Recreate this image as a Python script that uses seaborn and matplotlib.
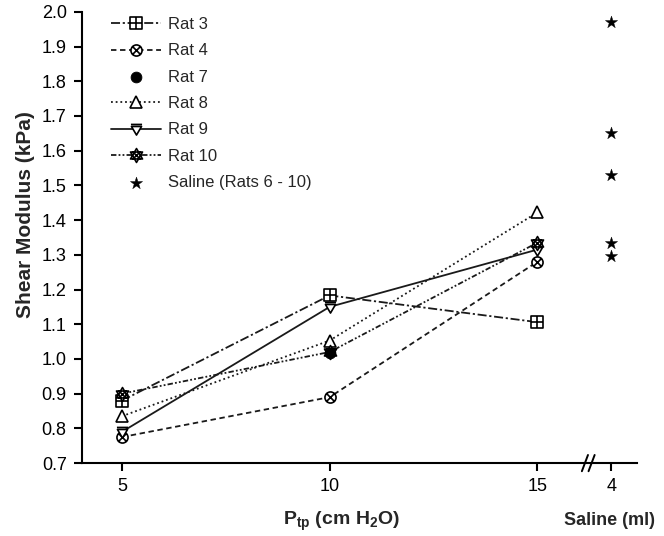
import numpy as np
import pandas as pd
import matplotlib
matplotlib.use("Agg")
import matplotlib.pyplot as plt
from matplotlib.path import Path
import seaborn as sns

# ---------------- data ----------------
pressures = [5, 10, 15]
rat3 = [0.880, 1.183, 1.106]
rat4 = [0.775, 0.890, 1.280]
rat7_p = [10]
rat7 = [1.017]
rat8 = [0.835, 1.053, 1.422]
rat9 = [0.790, 1.150, 1.315]
rat10 = [0.900, 1.020, 1.335]
saline_values = [1.972, 1.651, 1.530, 1.334, 1.297]
saline_pos = 16.78          # x position of the saline column
xtick_labels = ["5", "10", "15", "4"]
yticks = [0.7, 0.8, 0.9, 1.0, 1.1, 1.2, 1.3, 1.4, 1.5, 1.6, 1.7, 1.8, 1.9, 2.0]

# ---------------- style ----------------
sns.set_theme(style="ticks")
plt.rcParams["font.family"] = ["Liberation Sans", "DejaVu Sans"]
plt.rcParams["mathtext.fontset"] = "custom"
plt.rcParams["mathtext.rm"] = "Liberation Sans:bold"
plt.rcParams["mathtext.bf"] = "Liberation Sans:bold"
plt.rcParams["mathtext.it"] = "Liberation Sans:bold"

def compound(*paths):
    return Path.make_compound_path(*paths)

def seg(x0, y0, x1, y1):
    return Path([(x0, y0), (x1, y1)], [Path.MOVETO, Path.LINETO])

sq = Path([(-1, -1), (1, -1), (1, 1), (-1, 1), (-1, -1)],
          [Path.MOVETO, Path.LINETO, Path.LINETO, Path.LINETO, Path.CLOSEPOLY])
m_boxplus = compound(sq, seg(0, -1, 0, 1), seg(-1, 0, 1, 0))
circ = Path.unit_circle()
r = 0.707
m_otimes = compound(circ, seg(-r, -r, r, r), seg(-r, r, r, -r))
ang = np.deg2rad([90, 210, 330, 90])
t1 = Path(np.c_[np.cos(ang), np.sin(ang)], [Path.MOVETO, Path.LINETO, Path.LINETO, Path.CLOSEPOLY])
ang2 = np.deg2rad([270, 30, 150, 270])
t2 = Path(np.c_[np.cos(ang2), np.sin(ang2)], [Path.MOVETO, Path.LINETO, Path.LINETO, Path.CLOSEPOLY])
m_hex = compound(t1, t2, seg(-0.55, -0.55, 0.55, 0.55), seg(-0.55, 0.55, 0.55, -0.55))
m_vbar = compound(Path([(-1, 0.6), (1, 0.6), (0, -1.1), (-1, 0.6)],
                       [Path.MOVETO, Path.LINETO, Path.LINETO, Path.CLOSEPOLY]),
                  seg(-1.1, 1.0, 1.1, 1.0))

fig = plt.figure(figsize=(6.64, 5.36), dpi=100)
ax = fig.add_axes([0.1235, 0.136, 0.836, 0.842])

lc = "#1a1a1a"
common = dict(color=lc, linewidth=1.3, markeredgewidth=1.2,
              markeredgecolor="black", markerfacecolor="white")

series = [
    ("Rat 3", pressures, rat3, m_boxplus, (0, (5, 1.5, 1.2, 1.5)), 8),
    ("Rat 4", pressures, rat4, m_otimes, (0, (3, 2)), 8),
    ("Rat 8", pressures, rat8, "^", (0, (1, 1.6)), 9),
    ("Rat 9", pressures, rat9, m_vbar, "-", 8),
    ("Rat 10", pressures, rat10, m_hex, (0, (3, 1.2, 1, 1.2, 1, 1.2)), 10),
]

for name, xs, ys, mk, ls, ms in series:
    df = pd.DataFrame({"x": xs, "y": ys})
    sns.lineplot(data=df, x="x", y="y", ax=ax, marker=mk, linestyle=ls, markersize=ms,
                 label=name, **common)

df7 = pd.DataFrame({"x": rat7_p, "y": rat7})
sns.scatterplot(data=df7, x="x", y="y", ax=ax, marker="o", s=60, color="black",
                edgecolor="black", label="Rat 7", zorder=5)
dfs = pd.DataFrame({"x": [saline_pos] * len(saline_values), "y": saline_values})
sns.scatterplot(data=dfs, x="x", y="y", ax=ax, marker="*", s=85, color="black",
                edgecolor="black", linewidth=0.3, label="Saline (Rats 6 - 10)", zorder=5)

# ---------------- axes ----------------
ax.set_xlim(4.04, 17.4)
ax.set_ylim(0.7, 2.0)
ax.set_yticks(yticks)
ax.set_yticklabels([f"{v:.1f}" for v in yticks])
ax.set_xticks(pressures + [saline_pos])
ax.set_xticklabels(xtick_labels)
ax.tick_params(axis="both", direction="out", length=6, width=1.5, labelsize=13,
               colors="black", pad=5)
for s in ["top", "right"]:
    ax.spines[s].set_visible(False)
for s in ["left", "bottom"]:
    ax.spines[s].set_linewidth(1.5)
    ax.spines[s].set_color("black")
ax.set_xlabel("")
ax.set_ylabel("Shear Modulus (kPa)", fontsize=15, fontweight="bold")
ax.yaxis.set_label_coords(-0.084, 0.55)

# axis break marks
for dx in (0.0, 0.012):
    ax.plot([0.9005 + dx, 0.9115 + dx], [-0.018, 0.018], transform=ax.transAxes,
            color="black", lw=1.4, clip_on=False)

fig.text(0.515, 0.028, r"P$_{\mathbf{tp}}$ (cm H$_{\mathbf{2}}$O)", ha="center", va="center",
         fontsize=14, fontweight="bold")
fig.text(0.918, 0.028, "Saline (ml)", ha="center", va="center", fontsize=13, fontweight="bold")

# legend order
h, l = ax.get_legend_handles_labels()
order = ["Rat 3", "Rat 4", "Rat 7", "Rat 8", "Rat 9", "Rat 10", "Saline (Rats 6 - 10)"]
hd = dict(zip(l, h))
ax.legend([hd[o] for o in order], order, loc="upper left", bbox_to_anchor=(0.05, 0.992),
          frameon=False, fontsize=12, handlelength=3.0, handletextpad=0.4,
          labelspacing=0.68, borderaxespad=0, borderpad=0.1)

fig.savefig("out.png", dpi=100)
